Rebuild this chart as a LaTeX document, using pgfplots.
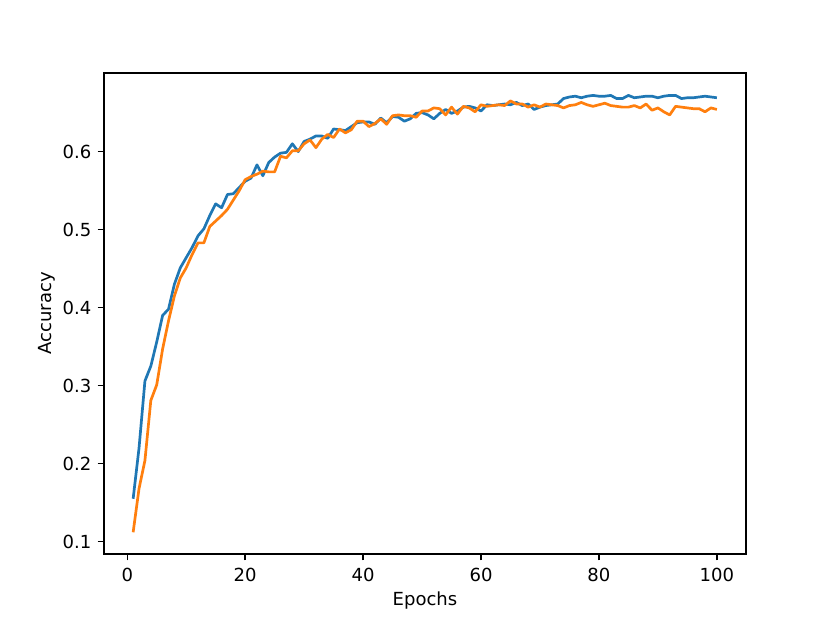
\documentclass[border=0pt]{standalone}
\usepackage{pgfplots}
\pgfplotsset{compat=1.18}
\usepackage{fontspec}
\setmainfont{DejaVu Sans}
\definecolor{c0}{HTML}{1F77B4}
\definecolor{c1}{HTML}{FF7F0E}
\begin{document}
\begin{tikzpicture}
\begin{axis}[
  scale only axis,
  width=356.4pt, height=267pt,
  xmin=-3.95, xmax=104.95,
  ymin=0.0842, ymax=0.7008,
  xtick={0,20,40,60,80,100},
  ytick={0.1,0.2,0.3,0.4,0.5,0.6},
  yticklabel style={/pgf/number format/.cd,fixed,precision=1,fixed zerofill},
  tick align=outside,
  tick pos=left,
  major tick length=3.5pt,
  axis line style={line width=0.8pt},
  every tick/.style={black,line width=0.8pt},
  tick label style={font=\fontsize{10}{12}\selectfont},
  label style={font=\fontsize{10}{12}\selectfont},
  xlabel={Epochs}, ylabel={Accuracy},
  xlabel style={yshift=1.2pt},
  ylabel style={yshift=-3pt},
  /pgf/number format/assume math mode=true,
  xticklabel style={yshift=-1pt},
]
\addplot[c0, line width=1.5pt, line join=round] table {
1 0.155
2 0.220
3 0.306
4 0.325
5 0.356
6 0.390
7 0.398
8 0.430
9 0.451
10 0.464
11 0.477
12 0.492
13 0.501
14 0.518
15 0.533
16 0.528
17 0.545
18 0.546
19 0.554
20 0.562
21 0.566
22 0.583
23 0.569
24 0.586
25 0.593
26 0.598
27 0.599
28 0.610
29 0.600
30 0.613
31 0.616
32 0.620
33 0.620
34 0.617
35 0.629
36 0.628
37 0.627
38 0.632
39 0.637
40 0.638
41 0.638
42 0.635
43 0.643
44 0.637
45 0.645
46 0.644
47 0.639
48 0.642
49 0.649
50 0.650
51 0.647
52 0.642
53 0.649
54 0.654
55 0.649
56 0.652
57 0.657
58 0.658
59 0.656
60 0.652
61 0.660
62 0.659
63 0.660
64 0.661
65 0.660
66 0.663
67 0.659
68 0.661
69 0.654
70 0.657
71 0.659
72 0.660
73 0.661
74 0.668
75 0.670
76 0.671
77 0.669
78 0.671
79 0.672
80 0.671
81 0.671
82 0.672
83 0.668
84 0.668
85 0.672
86 0.669
87 0.670
88 0.671
89 0.671
90 0.669
91 0.671
92 0.672
93 0.672
94 0.668
95 0.669
96 0.669
97 0.670
98 0.671
99 0.670
100 0.669
};
\addplot[c1, line width=1.5pt, line join=round] table {
1 0.112
2 0.168
3 0.204
4 0.281
5 0.301
6 0.347
7 0.383
8 0.415
9 0.438
10 0.451
11 0.468
12 0.483
13 0.483
14 0.504
15 0.511
16 0.518
17 0.526
18 0.538
19 0.550
20 0.564
21 0.568
22 0.571
23 0.575
24 0.574
25 0.574
26 0.594
27 0.592
28 0.601
29 0.601
30 0.610
31 0.615
32 0.605
33 0.616
34 0.622
35 0.618
36 0.629
37 0.624
38 0.628
39 0.639
40 0.639
41 0.632
42 0.636
43 0.642
44 0.635
45 0.646
46 0.647
47 0.646
48 0.646
49 0.644
50 0.652
51 0.652
52 0.656
53 0.655
54 0.647
55 0.657
56 0.648
57 0.658
58 0.656
59 0.651
60 0.660
61 0.658
62 0.659
63 0.660
64 0.659
65 0.665
66 0.661
67 0.661
68 0.657
69 0.660
70 0.657
71 0.661
72 0.660
73 0.659
74 0.656
75 0.659
76 0.660
77 0.663
78 0.660
79 0.658
80 0.660
81 0.662
82 0.659
83 0.658
84 0.657
85 0.657
86 0.659
87 0.656
88 0.661
89 0.653
90 0.656
91 0.651
92 0.647
93 0.658
94 0.657
95 0.656
96 0.655
97 0.655
98 0.651
99 0.656
100 0.654
};
\end{axis}
\path (current axis.south west) ++(-57.7pt,-38.3pt) coordinate (bl);
\path (current axis.north east) ++(46.6pt,40.5pt) coordinate (tr);
\path[use as bounding box] (bl) rectangle (tr);
\end{tikzpicture}
\end{document}
